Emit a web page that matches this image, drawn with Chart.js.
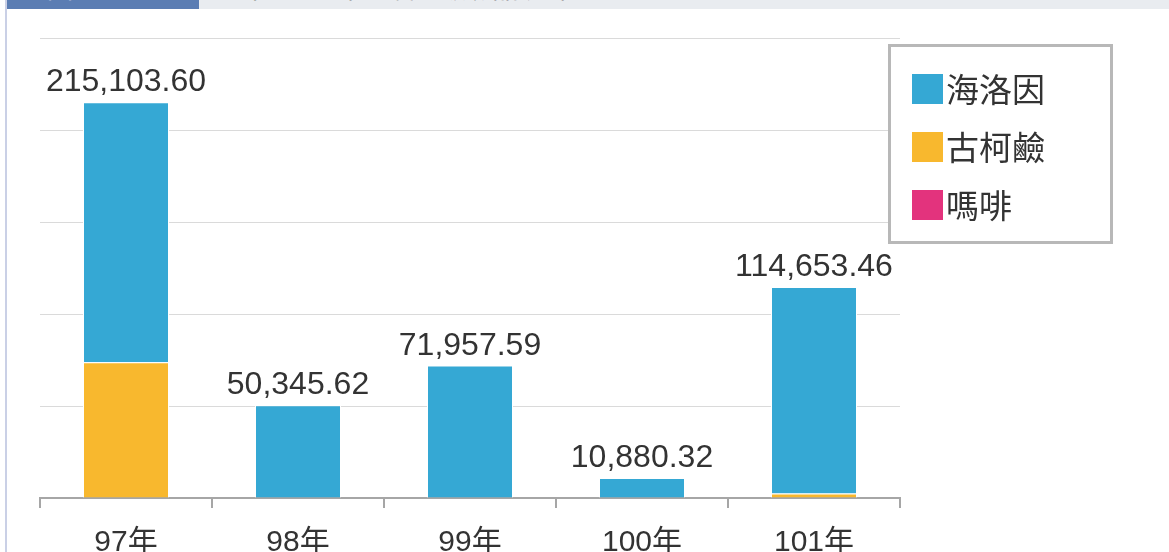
<!DOCTYPE html>
<html>
<head>
<meta charset="utf-8">
<script src="https://cdn.jsdelivr.net/npm/chart.js@4.4.1/dist/chart.umd.min.js"></script>
<style>
  html, body { margin: 0; padding: 0; background: #fff; overflow: hidden; width: 1169px; height: 552px; }
  #frame { position: absolute; left: 0; top: 0; width: 1169px; height: 552px; overflow: hidden; }
  #leftline { position: absolute; left: 5px; top: 0; width: 2px; height: 552px; background: #cad0e6; }
  #strip { position: absolute; left: 7px; top: 0; width: 1162px; height: 9px; background: #e9ecf0; overflow: hidden; }
  #tab { position: absolute; left: 0; top: 0; width: 192px; height: 9px; background: #5b7db3; overflow: hidden; }
  #tab span, #strip .title { position: absolute; top: -31px; line-height: 36px; font: 26px/36px "Noto Sans CJK TC", sans-serif; white-space: nowrap; }
  #tab span { left: 40px; color: #fff; }
  #strip .title { left: 205px; color: #777; }
  #wrap { position: absolute; left: 0; top: 0; width: 1169px; height: 600px; }
</style>
</head>
<body>
<div id="frame">
  <div id="wrap"><canvas id="c"></canvas></div>
  <div id="leftline"></div>
  <div id="strip"><div id="tab"><span>圖 1-2</span></div><span class="title">97年至101年查獲一級毒品統計</span></div>
</div>
<script>
const categories = ["97年", "98年", "99年", "100年", "101年"];
const seriesNames = ["海洛因", "古柯鹼", "嗎啡"];
const heroin   = [141303.60, 50345.62, 71957.59, 10880.32, 112253.46];
const cocaine  = [73800.00, 0, 0, 0, 2400.00];
const morphine = [0, 0, 0, 0, 0];
const seriesColors = ["#35a8d4", "#f8b82e", "#e3337d"];
const yTicks = [0, 50000, 100000, 150000, 200000, 250000];

const totalsPlugin = {
  id: 'totals',
  afterDatasetsDraw(chart) {
    const ctx = chart.ctx;
    const x = chart.scales.x, y = chart.scales.y;
    ctx.save();
    ctx.font = '32px "Liberation Sans", "Noto Sans CJK TC", sans-serif';
    ctx.fillStyle = '#333';
    ctx.textAlign = 'center';
    ctx.textBaseline = 'alphabetic';
    categories.forEach((c, i) => {
      const total = heroin[i] + cocaine[i] + morphine[i];
      const txt = total.toLocaleString('en-US', {minimumFractionDigits: 2, maximumFractionDigits: 2});
      ctx.fillText(txt, x.getPixelForValue(i), y.getPixelForValue(total) - 11);
    });
    ctx.restore();
  }
};

const legendPlugin = {
  id: 'boxLegend',
  afterDraw(chart) {
    const ctx = chart.ctx;
    ctx.save();
    ctx.fillStyle = '#fff';
    ctx.fillRect(888, 44, 225, 200);
    ctx.strokeStyle = '#b8b8b8';
    ctx.lineWidth = 3;
    ctx.strokeRect(889.5, 45.5, 222, 197);
    ctx.font = '33px "Noto Sans CJK TC", sans-serif';
    ctx.textBaseline = 'middle';
    ctx.textAlign = 'left';
    seriesNames.forEach((name, i) => {
      const cy = 89 + i * 58;
      ctx.fillStyle = seriesColors[i];
      ctx.fillRect(912, cy - 15, 31, 30);
      ctx.fillStyle = '#333';
      ctx.fillText(name, 946, cy);
    });
    ctx.restore();
  }
};

const common = { borderColor: '#ffffff', borderWidth: 1, categoryPercentage: 1, barPercentage: 0.5 };

new Chart(document.getElementById('c'), {
  type: 'bar',
  data: {
    labels: categories,
    datasets: [
      Object.assign({ label: seriesNames[1], data: cocaine, backgroundColor: seriesColors[1] }, common),
      Object.assign({ label: seriesNames[0], data: heroin, backgroundColor: seriesColors[0] }, common),
      Object.assign({ label: seriesNames[2], data: morphine, backgroundColor: seriesColors[2] }, common)
    ]
  },
  options: {
    responsive: true,
    maintainAspectRatio: false,
    animation: false,
    layout: { padding: { left: 40, right: 269, top: 38, bottom: 22 } },
    plugins: { legend: { display: false }, tooltip: { enabled: false } },
    scales: {
      x: {
        stacked: true,
        grid: { drawOnChartArea: false, drawTicks: true, tickLength: 10, color: '#a6a6a6', lineWidth: 2 },
        border: { display: true, color: '#a6a6a6', width: 2 },
        ticks: { color: '#333', padding: 17, font: { size: 30, family: '"Liberation Sans", "Noto Sans CJK TC", sans-serif' } }
      },
      y: {
        stacked: true,
        min: yTicks[0], max: yTicks[yTicks.length - 1],
        afterBuildTicks(s) { s.ticks = yTicks.map(v => ({ value: v })); },
        afterFit(s) { s.width = 0; },
        ticks: { display: false },
        grid: { drawTicks: false, color: '#dadada', lineWidth: 1 },
        border: { display: false }
      }
    }
  },
  plugins: [totalsPlugin, legendPlugin]
});
</script>
</body>
</html>
